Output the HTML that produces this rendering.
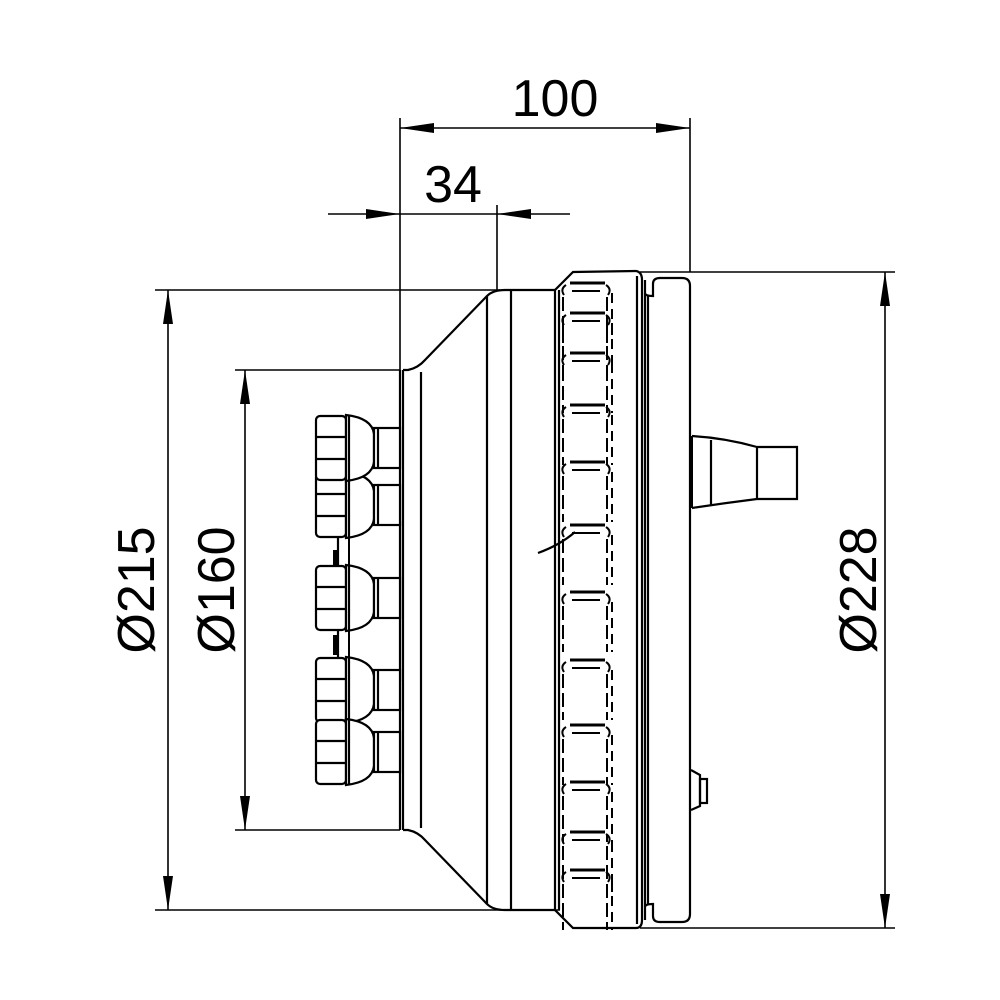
<!DOCTYPE html>
<html><head><meta charset="utf-8"><style>
html,body{margin:0;padding:0;background:#fff;}
svg{display:block;}
text{font-family:"Liberation Sans","DejaVu Sans",sans-serif;fill:#000;}
</style></head><body>
<svg width="1000" height="1000" viewBox="0 0 1000 1000" xmlns="http://www.w3.org/2000/svg">
<defs>
<marker id="ar" viewBox="0 0 34 10" refX="34" refY="5" markerWidth="34" markerHeight="10" markerUnits="userSpaceOnUse" orient="auto-start-reverse">
<path d="M0,0 L34,5 L0,10 Z" fill="#000"/>
</marker>
<g id="nz" fill="#fff" stroke="#000" stroke-width="2.2">
<rect x="316" y="-32" width="30" height="64" rx="4"/>
<line x1="316" y1="-11" x2="346" y2="-11"/>
<line x1="316" y1="11" x2="346" y2="11"/>
<path d="M346,-33 Q372,-30 374,-14 L374,14 Q372,30 346,33 Z"/>
<line x1="349" y1="-32" x2="349" y2="32"/>
<rect x="374" y="-20" width="26" height="40"/>
<line x1="378" y1="-20" x2="378" y2="20"/>
</g>
<g id="blk" fill="none" stroke="#000" stroke-width="2">
<line x1="570" y1="0" x2="605" y2="0" stroke-width="3"/>
<line x1="572" y1="8" x2="600" y2="8"/>
<path d="M566,2 q-6,4 -2,10 M606,2 q6,4 2,10" />
<line x1="563" y1="14" x2="563" y2="60" stroke-dasharray="14 5"/>
<line x1="607" y1="14" x2="607" y2="60" stroke-dasharray="14 5"/>
<line x1="612" y1="10" x2="612" y2="60" stroke-dasharray="10 6"/>
</g>
</defs>

<g stroke="#000" stroke-width="1.6" fill="none">
<line x1="400" y1="118" x2="400" y2="372"/>
<line x1="690" y1="118" x2="690" y2="272"/>
<line x1="497" y1="205" x2="497" y2="290"/>
<line x1="400" y1="128" x2="690" y2="128" marker-start="url(#ar)" marker-end="url(#ar)"/>
<line x1="328" y1="214" x2="400" y2="214" marker-end="url(#ar)"/>
<line x1="570" y1="214" x2="497" y2="214" marker-end="url(#ar)"/>
<line x1="400" y1="214" x2="497" y2="214"/>
<line x1="155" y1="290" x2="500" y2="290"/>
<line x1="155" y1="910" x2="560" y2="910"/>
<line x1="168" y1="290" x2="168" y2="910" marker-start="url(#ar)" marker-end="url(#ar)"/>
<line x1="235" y1="370" x2="400" y2="370"/>
<line x1="235" y1="830" x2="400" y2="830"/>
<line x1="245" y1="370" x2="245" y2="830" marker-start="url(#ar)" marker-end="url(#ar)"/>
<line x1="640" y1="272" x2="895" y2="272"/>
<line x1="640" y1="928" x2="895" y2="928"/>
<line x1="885" y1="272" x2="885" y2="928" marker-start="url(#ar)" marker-end="url(#ar)"/>
</g>
<text x="555" y="116" font-size="52" text-anchor="middle">100</text>
<text x="453" y="202" font-size="52" text-anchor="middle">34</text>
<g font-size="52" text-anchor="middle">
<text transform="translate(154,590) rotate(-90)">Ø215</text>
<text transform="translate(234,590) rotate(-90)">Ø160</text>
<text transform="translate(876,590) rotate(-90)">Ø228</text>
</g>

<g stroke="#000" stroke-width="2.2" fill="none">
<line x1="400" y1="370" x2="400" y2="830"/>
<line x1="403" y1="370" x2="403" y2="830"/>
<line x1="421" y1="372" x2="421" y2="828"/>
<path d="M403,370 L408,370 Q418,368 425,360 L487,296 Q493,290 505,290 L555,290"/>
<path d="M403,830 L408,830 Q418,832 425,840 L487,904 Q493,910 505,910 L555,910"/>
<line x1="487" y1="296" x2="487" y2="904"/>
<line x1="511" y1="290" x2="511" y2="910"/>
<path d="M555,290 L573,272 L636,271 Q642,272 642,280 L642,920 Q642,928 636,928 L573,928 L555,910 Z"/>
<line x1="559" y1="290" x2="559" y2="910"/>
<line x1="637" y1="276" x2="637" y2="924"/>
<path d="M645,280 L645,920"/>
<path d="M648,296 L648,904"/>
<path d="M645,293 Q645,296 653,296 L653,284 Q653,278 660,278 L682,278 Q690,278 690,286 L690,914 Q690,922 682,922 L660,922 Q653,922 653,916 L653,904 Q645,904 645,907"/>
<path d="M692,436 Q725,438 757,447 L797,447 L797,499 L757,499 Q725,503 692,508"/>
<line x1="711" y1="440" x2="711" y2="505"/>
<line x1="757" y1="447" x2="757" y2="499"/>
<line x1="691" y1="436" x2="691" y2="508" stroke-width="4"/>
<path d="M691,770 L700,775 L700,806 L691,810"/>
<rect x="700" y="779" width="7" height="24"/>
<path d="M538,553 Q560,545 575,532"/>
</g>
<path d="M338,535 Q338,522 351,522 L400,522 L400,680 L351,680 Q338,680 338,667 Z" fill="#fff" stroke="#000" stroke-width="2.2"/>
<line x1="349" y1="522" x2="349" y2="680" stroke="#000" stroke-width="2"/>
<line x1="335" y1="550" x2="335" y2="565" stroke="#000" stroke-width="4"/>
<line x1="335" y1="635" x2="335" y2="655" stroke="#000" stroke-width="4"/>
<use href="#nz" transform="translate(0,505)"/>
<use href="#nz" transform="translate(0,448)"/>
<use href="#nz" transform="translate(0,598)"/>
<use href="#nz" transform="translate(0,690)"/>
<use href="#nz" transform="translate(0,752)"/>
<use href="#blk" transform="translate(0,283)"/>
<use href="#blk" transform="translate(0,313)"/>
<use href="#blk" transform="translate(0,353)"/>
<use href="#blk" transform="translate(0,405)"/>
<use href="#blk" transform="translate(0,462)"/>
<use href="#blk" transform="translate(0,525)"/>
<use href="#blk" transform="translate(0,592)"/>
<use href="#blk" transform="translate(0,660)"/>
<use href="#blk" transform="translate(0,725)"/>
<use href="#blk" transform="translate(0,782)"/>
<use href="#blk" transform="translate(0,832)"/>
<use href="#blk" transform="translate(0,870)"/>
</svg>
</body></html>
